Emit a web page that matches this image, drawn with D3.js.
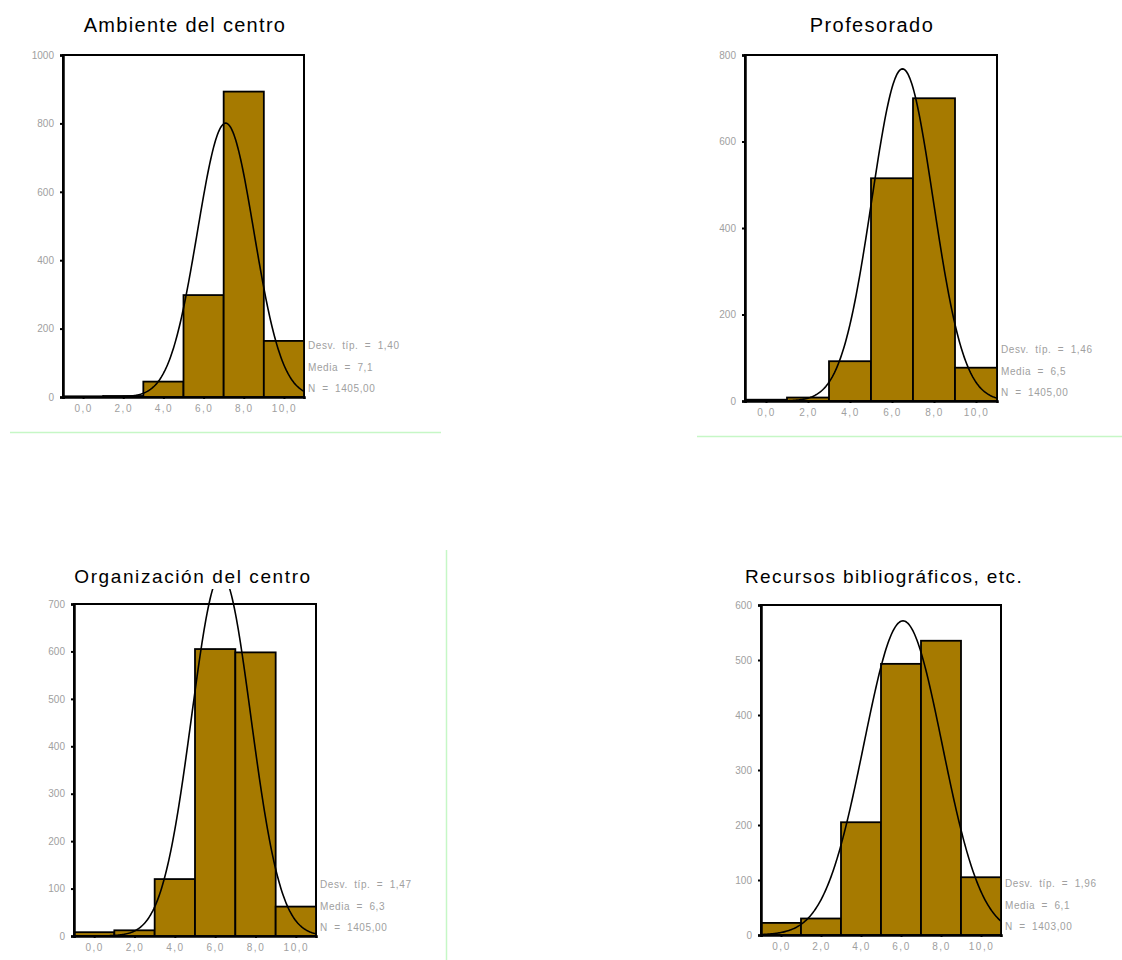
<!DOCTYPE html>
<html>
<head>
<meta charset="utf-8">
<script src="https://cdn.jsdelivr.net/npm/d3@7"></script>
<style>
  html, body { margin: 0; padding: 0; background: #ffffff; }
  svg { display: block; }
</style>
</head>
<body>
<svg id="chart" width="1122" height="960"></svg>
<script>
// ---------------- data ----------------
const binCenters = [0, 2, 4, 6, 8, 10];
const xTickLabels = ["0,0", "2,0", "4,0", "6,0", "8,0", "10,0"];
const titles = ["Ambiente del centro", "Profesorado", "Organización del centro", "Recursos bibliográficos, etc."];
const countsAmbiente     = [2, 3, 45, 298, 893, 164];
const countsProfesorado  = [3, 8, 92, 515, 700, 77];
const countsOrganizacion = [8, 12, 120, 605, 598, 62];
const countsRecursos     = [22, 30, 205, 493, 535, 105];
const sdValues   = [1.40, 1.46, 1.47, 1.96];
const meanValues = [7.1, 6.5, 6.3, 6.1];
const nValues    = [1405, 1405, 1405, 1403];
const sdLabels   = ["1,40", "1,46", "1,47", "1,96"];
const meanLabels = ["7,1", "6,5", "6,3", "6,1"];
const nLabels    = ["1405,00", "1405,00", "1405,00", "1403,00"];
const yTicks1 = [0, 200, 400, 600, 800, 1000];
const yTicks2 = [0, 200, 400, 600, 800];
const yTicks3 = [0, 100, 200, 300, 400, 500, 600, 700];
const yTicks4 = [0, 100, 200, 300, 400, 500, 600];
const binWidth = 2;

// ---------------- layout ----------------
const panels = [
  { counts: countsAmbiente,     yTicks: yTicks1, left: 63,  top: 55,  right: 304,  bottom: 397, titleX: 185, titleY: 32,  fs: 20, ls: 1.3 },
  { counts: countsProfesorado,  yTicks: yTicks2, left: 745, top: 55,  right: 997,  bottom: 401, titleX: 872, titleY: 32,  fs: 20, ls: 1.4 },
  { counts: countsOrganizacion, yTicks: yTicks3, left: 74,  top: 604, right: 316,  bottom: 936, titleX: 193, titleY: 583, fs: 19, ls: 1.6 },
  { counts: countsRecursos,     yTicks: yTicks4, left: 761, top: 605, right: 1001, bottom: 935, titleX: 884, titleY: 583, fs: 19, ls: 1.4 }
];

const svg = d3.select("#chart");
const FONT = "'Liberation Sans', Arial, sans-serif";
const barFill = "#a67a00";
const grayText = "#a0a0a0";
const green = "#c6f7c6";

// decorative separator lines
svg.append("line").attr("x1", 10).attr("x2", 441).attr("y1", 432.5).attr("y2", 432.5)
  .attr("stroke", green).attr("stroke-width", 1.5);
svg.append("line").attr("x1", 697).attr("x2", 1122).attr("y1", 436.5).attr("y2", 436.5)
  .attr("stroke", green).attr("stroke-width", 1.5);
svg.append("line").attr("x1", 446.5).attr("x2", 446.5).attr("y1", 550).attr("y2", 960)
  .attr("stroke", green).attr("stroke-width", 1.5);

function normalPdf(x, mu, sd) {
  return Math.exp(-0.5 * Math.pow((x - mu) / sd, 2)) / (sd * Math.sqrt(2 * Math.PI));
}

panels.forEach((p, i) => {
  const g = svg.append("g");
  const yMax = p.yTicks[p.yTicks.length - 1];
  const x = d3.scaleLinear().domain([-1, 11]).range([p.left, p.right]);
  const y = d3.scaleLinear().domain([0, yMax]).range([p.bottom, p.top]);

  // frame
  g.append("rect").attr("x", p.left).attr("y", p.top)
    .attr("width", p.right - p.left).attr("height", p.bottom - p.top)
    .attr("fill", "#ffffff").attr("stroke", "#000").attr("stroke-width", 2);

  // bars
  g.selectAll("rect.bar").data(binCenters.map((c, k) => ({ c, v: p.counts[k] })))
    .enter().append("rect").attr("class", "bar")
    .attr("x", d => x(d.c - binWidth / 2))
    .attr("y", d => y(d.v))
    .attr("width", d => x(d.c + binWidth / 2) - x(d.c - binWidth / 2))
    .attr("height", d => y(0) - y(d.v))
    .attr("fill", barFill).attr("stroke", "#000").attr("stroke-width", 1.8);

  // normal curve
  const xs = d3.range(-1, 11.0001, 0.05);
  const line = d3.line()
    .x(d => x(d))
    .y(d => y(nValues[i] * binWidth * normalPdf(d, meanValues[i], sdValues[i])));
  g.append("path").datum(xs).attr("d", line)
    .attr("fill", "none").attr("stroke", "#000").attr("stroke-width", 1.6);

  // axes
  const yAxis = d3.axisLeft(y).tickValues(p.yTicks).tickSize(3).tickPadding(6).tickFormat(d3.format("d"));
  const ya = g.append("g").attr("transform", `translate(${p.left},0)`).call(yAxis);
  ya.select(".domain").attr("stroke", "#000").attr("stroke-width", 2.5);
  ya.selectAll(".tick line").attr("stroke", "#000").attr("stroke-width", 2);
  ya.selectAll(".tick text").attr("fill", grayText).style("font-family", FONT).style("font-size", "10px");

  const xAxis = d3.axisBottom(x).tickValues(binCenters).tickSize(2).tickPadding(6)
    .tickFormat((d, k) => xTickLabels[k]);
  const xa = g.append("g").attr("transform", `translate(0,${p.bottom})`).call(xAxis);
  xa.select(".domain").attr("stroke", "#000").attr("stroke-width", 2.5);
  xa.selectAll(".tick line").attr("stroke", "#000").attr("stroke-width", 2);
  xa.selectAll(".tick text").attr("fill", grayText).style("font-family", FONT)
    .style("font-size", "10px").style("letter-spacing", "1.5px");

  // stats
  const stats = [`Desv. típ. = ${sdLabels[i]}`, `Media = ${meanLabels[i]}`, `N = ${nLabels[i]}`];
  const offs = [-52, -30, -9];
  stats.forEach((s, k) => {
    g.append("text").attr("x", p.right + 4).attr("y", p.bottom + offs[k])
      .attr("dy", "0.35em").attr("fill", grayText)
      .style("font-family", FONT).style("font-size", "10px")
      .style("letter-spacing", "0.6px").style("word-spacing", "3px").text(s);
  });

  // title with white backing
  const t = g.append("text").attr("x", p.titleX).attr("y", p.titleY)
    .attr("text-anchor", "middle").attr("fill", "#000")
    .style("font-family", FONT).style("font-size", p.fs + "px")
    .style("letter-spacing", p.ls + "px").text(titles[i]);
  const bb = t.node().getBBox();
  g.insert("rect", () => t.node()).attr("x", bb.x).attr("y", bb.y + 2)
    .attr("width", bb.width).attr("height", bb.height).attr("fill", "#ffffff");
});
</script>
</body>
</html>
